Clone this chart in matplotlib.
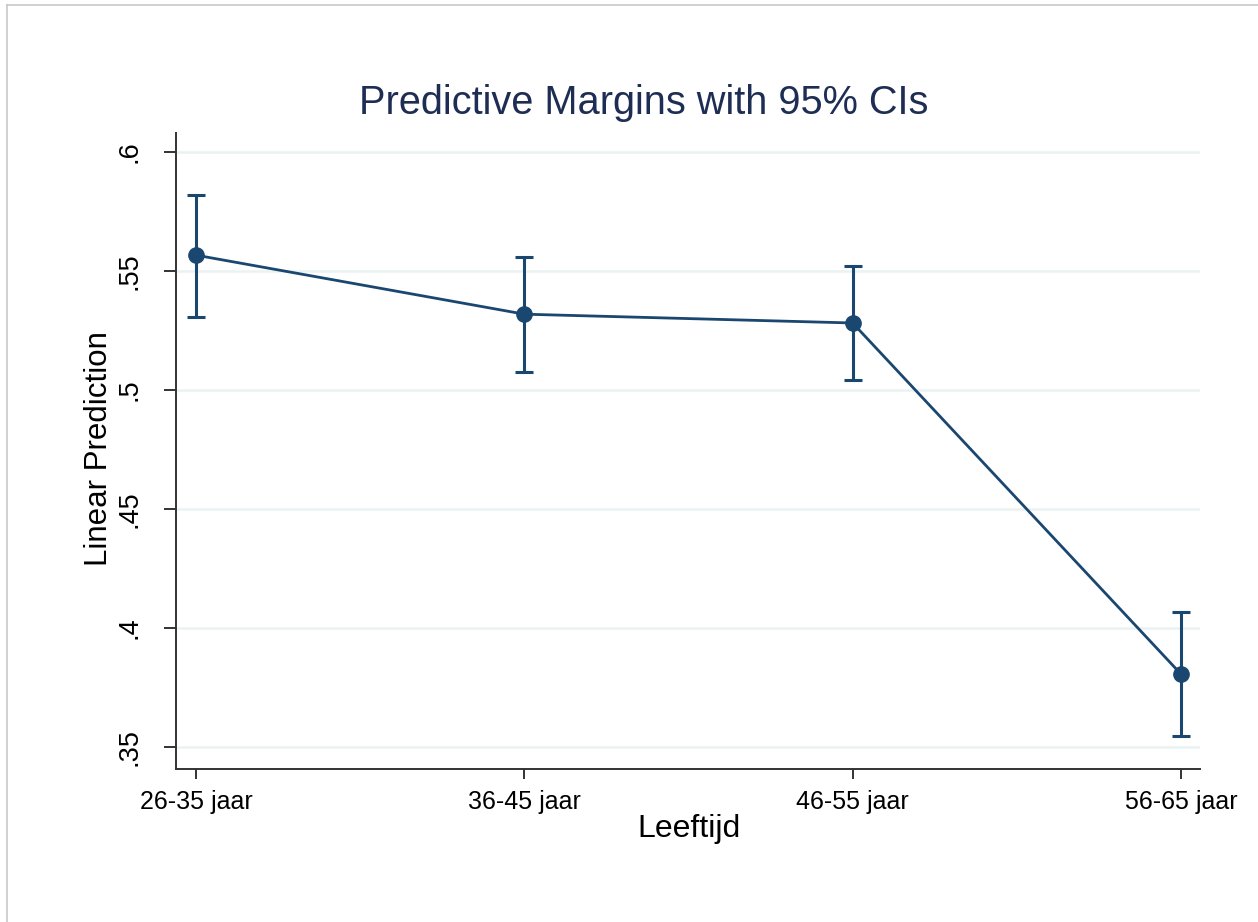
import matplotlib
matplotlib.use('Agg')
import matplotlib.pyplot as plt
from matplotlib.lines import Line2D
import numpy as np

# margins per leeftijdsgroep (lezing van de figuur)
categories = ['26-35 jaar', '36-45 jaar', '46-55 jaar', '56-65 jaar']
margin = [0.5567, 0.5319, 0.5282, 0.3807]
ci_low = [0.5307, 0.5076, 0.5042, 0.3546]
ci_high = [0.5819, 0.5559, 0.5521, 0.4067]
y_ticks = [0.35, 0.4, 0.45, 0.5, 0.55, 0.6]
y_ticklabels = ['.35', '.4', '.45', '.5', '.55', '.6']

plt.rcParams['font.family'] = ['Liberation Sans', 'DejaVu Sans']

navy = '#1a476f'
x = np.arange(1, len(categories) + 1)
margin = np.array(margin)
err = [margin - np.array(ci_low), np.array(ci_high) - margin]

fig = plt.figure(figsize=(12.58, 9.22), dpi=100)
ax = fig.add_axes([0.1399, 0.1659, 0.8140, 0.6898])

# grid
for yt in y_ticks:
    ax.axhline(yt, color='#eaf2f3', lw=1.8, zorder=0)

ax.errorbar(x, margin, yerr=err, fmt='none', ecolor=navy, elinewidth=2.2,
            capsize=6.5, capthick=2.2, zorder=2)
ax.plot(x, margin, color=navy, lw=2.0, marker='o', markersize=11, zorder=3)

ax.set_xlim(0.939, 4.058)
ax.set_ylim(0.3408, 0.608)
ax.set_xticks(x)
ax.set_xticklabels(categories, fontsize=18)
ax.set_yticks(y_ticks)
ax.set_yticklabels(y_ticklabels, fontsize=19.5, rotation=90, va='center')

for s in ['top', 'right']:
    ax.spines[s].set_visible(False)
for s in ['left', 'bottom']:
    ax.spines[s].set_color('#333333')
    ax.spines[s].set_linewidth(1.4)
ax.tick_params(axis='y', length=9, width=1.4, color='#333333', pad=15)
ax.tick_params(axis='x', length=7, width=1.4, color='#333333', pad=8)

ax.set_xlabel('Leeftijd', fontsize=23, va='center')
ax.set_ylabel('Linear Prediction', fontsize=22.5, va='center')
ax.xaxis.set_label_coords(0.5005, -0.0943)
ax.yaxis.set_label_coords(-0.0752, 0.504)
fig.text(644 / 1258, 1 - 103 / 922, 'Predictive Margins with 95% CIs',
         ha='center', va='center', fontsize=28.6, color='#1e2d53')

# rand van de grafiek
fig.add_artist(Line2D([7 / 1258, 1], [1 - 5 / 922, 1 - 5 / 922], color='#c8c8c8', lw=1.2))
fig.add_artist(Line2D([7 / 1258, 7 / 1258], [0, 1 - 5 / 922], color='#c8c8c8', lw=1.2))

fig.savefig('out.png', dpi=100)
